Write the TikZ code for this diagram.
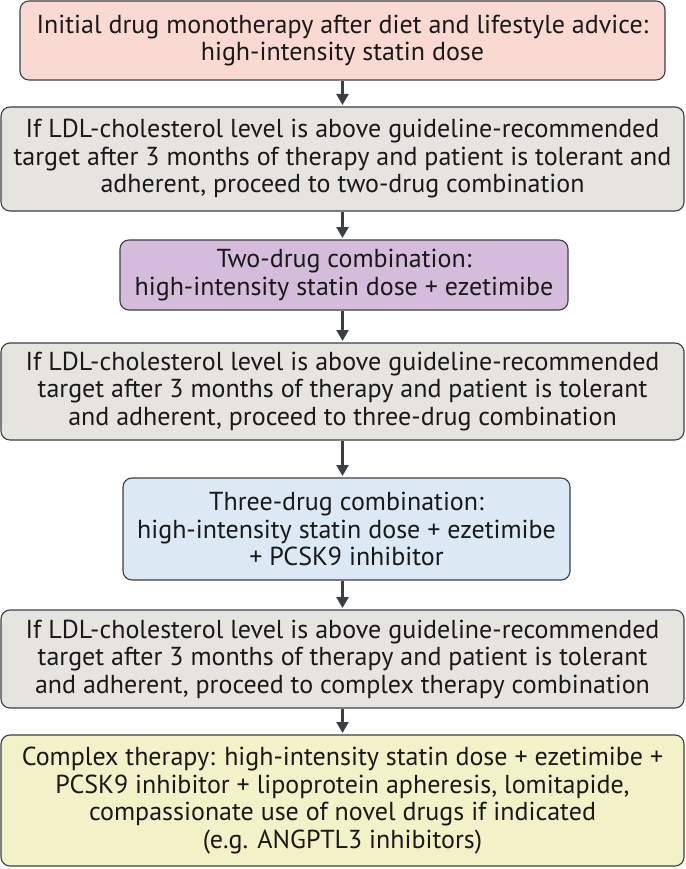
\documentclass[tikz,border=0pt]{standalone}
\usepackage{fontspec}
\setmainfont{PT Sans}
\usetikzlibrary{arrows.meta}
\definecolor{pinkf}{HTML}{FBD9D3}
\definecolor{greyf}{HTML}{E6E4DF}
\definecolor{purpf}{HTML}{D6BCDC}
\definecolor{bluef}{HTML}{DCE8F3}
\definecolor{yelf}{HTML}{F2F1C8}
\definecolor{edge}{HTML}{3A3F44}
\begin{document}
\begin{tikzpicture}[x=1pt,y=-1pt,
  box/.style={draw=edge,line width=1.1pt,rounded corners=9pt},
  txt/.style={align=center,font=\fontsize{26}{27.5}\selectfont,text=black!90},
  flow/.style={draw=edge,line width=2.4pt,-{Triangle[length=11pt,width=12pt]}}]
\useasboundingbox (0,0) rectangle (685,869);
\draw[box,fill=pinkf] (20,1) rectangle (665,80);
\node[txt] (t1) at (342.5,40.5) {Initial drug monotherapy after diet and lifestyle advice:\\high-intensity statin dose};
\draw[box,fill=greyf] (1,107) rectangle (684,211);
\node[txt] (t2) at (342.5,159) {If LDL-cholesterol level is above guideline-recommended\\target after 3 months of therapy and patient is tolerant and\\adherent, proceed to two-drug combination};
\draw[box,fill=purpf] (120,240) rectangle (568,310);
\node[txt] (t3) at (344,275) {Two-drug combination:\\high-intensity statin dose + ezetimibe};
\draw[box,fill=greyf] (1,343) rectangle (684,440);
\node[txt] (t4) at (342.5,391.5) {If LDL-cholesterol level is above guideline-recommended\\target after 3 months of therapy and patient is tolerant\\and adherent, proceed to three-drug combination};
\draw[box,fill=bluef] (123,478) rectangle (570,580);
\node[txt] (t5) at (346.5,529) {Three-drug combination:\\high-intensity statin dose + ezetimibe\\+ PCSK9 inhibitor};
\draw[box,fill=greyf] (1,610) rectangle (684,708);
\node[txt] (t6) at (342.5,659) {If LDL-cholesterol level is above guideline-recommended\\target after 3 months of therapy and patient is tolerant\\and adherent, proceed to complex therapy combination};
\draw[box,fill=yelf] (1,735) rectangle (684,866);
\node[txt] (t7) at (342.5,800.5) {Complex therapy: high-intensity statin dose + ezetimibe +\\PCSK9 inhibitor + lipoprotein apheresis, lomitapide,\\compassionate use of novel drugs if indicated\\(e.g. ANGPTL3 inhibitors)};
\coordinate (a1s) at (342.5,81); \coordinate (a1e) at (342.5,105);
\coordinate (a2s) at (342.5,212); \coordinate (a2e) at (342.5,238);
\coordinate (a3s) at (342.5,311); \coordinate (a3e) at (342.5,341);
\coordinate (a4s) at (342.5,441); \coordinate (a4e) at (342.5,476);
\coordinate (a5s) at (342.5,581); \coordinate (a5e) at (342.5,608);
\coordinate (a6s) at (342.5,709); \coordinate (a6e) at (342.5,733);
\foreach \i in {1,...,6} \draw[flow] (a\i s) -- (a\i e);
\end{tikzpicture}
\end{document}
